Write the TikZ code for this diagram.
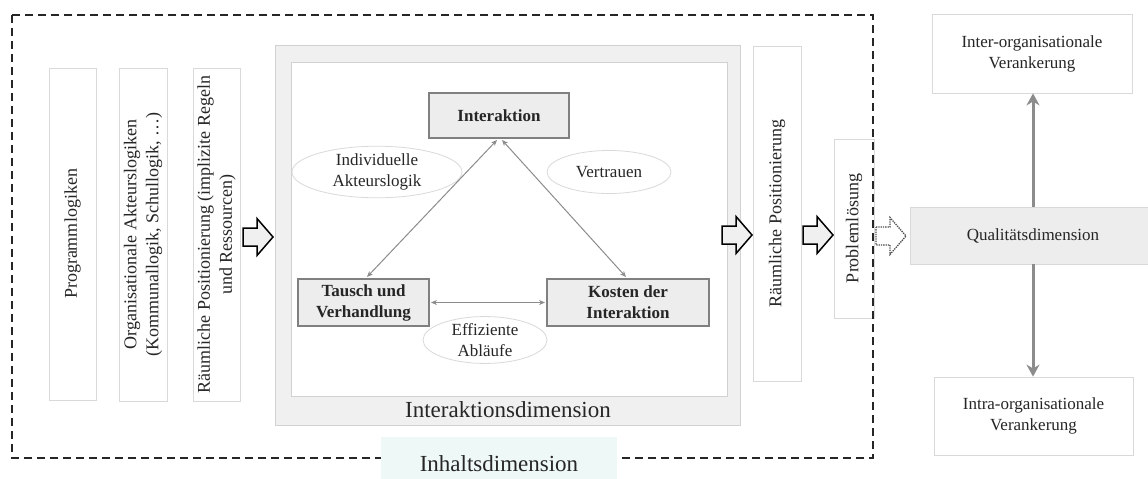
\documentclass[tikz,border=0pt]{standalone}
\usepackage{fontspec}
\setmainfont{Liberation Serif}
\usetikzlibrary{arrows.meta,shapes.geometric,calc}
\definecolor{mint}{RGB}{238,248,246}
\begin{document}
\begin{tikzpicture}[x=1pt,y=-1pt,
  txt/.style={font=\fontsize{17}{21}\selectfont, text=black!85},
  rottxt/.style={font=\fontsize{18}{22}\selectfont, text=black!85},
  bigtxt/.style={font=\fontsize{23}{27}\selectfont, text=black!85},
  leftbox/.style={draw=black!15, fill=white, line width=0.8pt, txt, align=center, inner sep=0pt},
  rotbox/.style={leftbox, rotate=90, rottxt},
  boldbox/.style={draw=black!50, fill=black!7, line width=2pt, text=black!85, font=\bfseries\fontsize{17}{21}\selectfont, align=center, inner sep=0pt},
  oval/.style={ellipse, draw=black!15, fill=white, line width=0.8pt, txt, align=center, inner sep=0pt},
  tri/.style={draw=black!45, line width=1pt, {Stealth[length=6pt,width=5pt]}-{Stealth[length=6pt,width=5pt]}},
  vert/.style={draw=black!45, line width=3pt, -{Stealth[length=12pt,width=13pt]}},
  blockarrow/.pic={\path[pic actions] (0,-9)--(14,-9)--(14,-18.5)--(30,0)--(14,18.5)--(14,9)--(0,9)--cycle;}
]
\useasboundingbox (0,0) rectangle (1148,479);

% left column boxes
\node[rotbox, minimum width=332, minimum height=47] (prog) at (72.5,234) {Programmlogiken};
\node[rotbox, minimum width=333, minimum height=48] (org) at (143,234.5) {Organisationale Akteurslogiken\\(Kommunallogik, Schullogik, …)};
\node[rotbox, minimum width=333, minimum height=47] (raum1) at (216.5,234.5) {Räumliche Positionierung (implizite Regeln\\und Ressourcen)};

\pic[draw=black, fill=black!6, line width=1.5pt] at (243,237) {blockarrow};

% Interaktionsdimension
\node[draw=black!18, fill=black!6, line width=0.8pt, minimum width=465, minimum height=380, inner sep=0pt] (idim) at (507.5,235) {};
\node[draw=black!18, fill=white, line width=0.8pt, minimum width=436, minimum height=334, inner sep=0pt] (inner) at (509,229) {};
\node[bigtxt] (idimlabel) at (508,410) {Interaktionsdimension};

% ellipses
\node[oval, minimum width=170, minimum height=49] (indiv) at (377,172) {Individuelle\\Akteurslogik};
\node[oval, minimum width=124, minimum height=43] (vertr) at (609,172) {Vertrauen};
\node[oval, minimum width=124, minimum height=44] (effiz) at (485,340) {Effiziente\\Abläufe};

% triangle boxes
\node[boldbox, minimum width=140, minimum height=45] (inter) at (499,115.5) {Interaktion};
\node[boldbox, minimum width=131, minimum height=47] (tausch) at (363.5,302.5) {Tausch und\\Verhandlung};
\node[boldbox, minimum width=162, minimum height=47] (kosten) at (628,302.5) {Kosten der\\Interaktion};

\draw[tri] ($(inter.south)+(-2,1)$) -- ($(tausch.north)+(3.5,-1)$);
\draw[tri] ($(inter.south)+(3,1)$) -- ($(kosten.north)+(-2,-1)$);
\draw[tri] ($(tausch.east)+(1,0)$) -- ($(kosten.west)+(-1,0)$);

% right side of content dimension
\pic[draw=black, fill=black!6, line width=1.5pt] at (722,235) {blockarrow};
\node[rotbox, minimum width=335, minimum height=48] (raum2) at (777,213.5) {Räumliche Positionierung};
\pic[draw=black, fill=black!6, line width=1.5pt] at (803,235) {blockarrow};
\node[rotbox, minimum width=179, minimum height=40] (prob) at (854,228.5) {Problemlösung};

% dashed content frame
\draw[line width=1.8pt, dash pattern=on 8pt off 5pt, black!85] (12,15) rectangle (873,458);
\node[fill=mint, minimum width=236, minimum height=54, inner sep=0pt, bigtxt] (inhalt) at (499,464) {Inhaltsdimension};

% quality dimension
\pic[draw=black!70, fill=white, line width=1.3pt, densely dotted] at (876,236) {blockarrow};
\node[draw=black!15, fill=black!7, line width=0.8pt, minimum width=246, minimum height=57, inner sep=0pt, txt] (qual) at (1033,235.5) {Qualitätsdimension};
\node[leftbox, minimum width=200, minimum height=79] (interorg) at (1032,53.5) {Inter-organisationale\\Verankerung};
\node[leftbox, minimum width=199, minimum height=78] (intraorg) at (1033.5,416) {Intra-organisationale\\Verankerung};

\draw[vert] (qual.north) -- (qual.north |- interorg.south);
\draw[vert] (qual.south) -- (qual.south |- intraorg.north);
\end{tikzpicture}
\end{document}
